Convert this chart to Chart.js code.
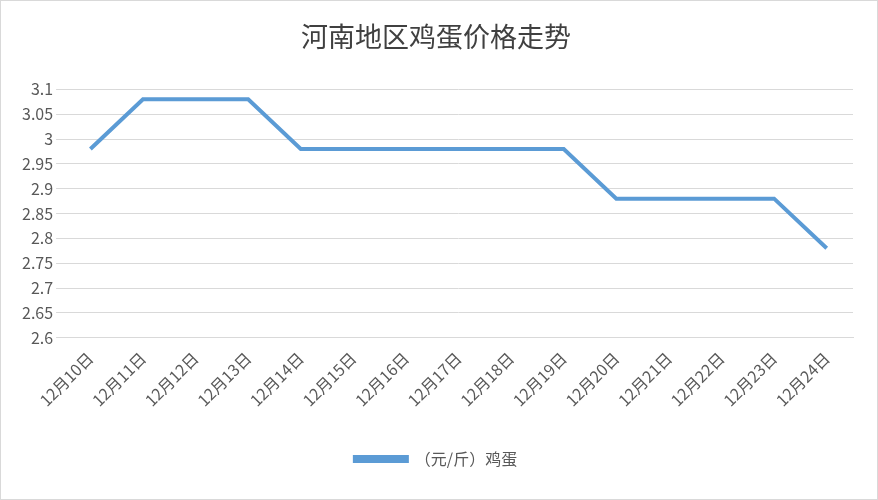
<!DOCTYPE html>
<html>
<head>
<meta charset="utf-8">
<script src="https://cdn.jsdelivr.net/npm/chart.js@4"></script>
<style>
  html, body { margin: 0; padding: 0; background: #fff; }
  #wrap { width: 876px; height: 498px; border: 1px solid #d9d9d9; position: relative; }
</style>
</head>
<body>
<div id="wrap"><canvas id="c" width="876" height="498"></canvas></div>
<script>
// 数据
const categories = ['12月10日', '12月11日', '12月12日', '12月13日', '12月14日', '12月15日', '12月16日',
  '12月17日', '12月18日', '12月19日', '12月20日', '12月21日', '12月22日', '12月23日', '12月24日'];
const eggPrices = [2.98, 3.08, 3.08, 3.08, 2.98, 2.98, 2.98, 2.98, 2.98, 2.98, 2.88, 2.88, 2.88, 2.88, 2.78];
const seriesLabel = '（元/斤）鸡蛋';
const yMin = 2.6, yMax = 3.1, yStep = 0.05;

const font = '"Noto Sans CJK SC", "Noto Sans", sans-serif';

new Chart(document.getElementById('c'), {
  type: 'line',
  data: {
    labels: categories,
    datasets: [{
      label: seriesLabel,
      data: eggPrices,
      borderColor: '#5b9bd5',
      backgroundColor: '#5b9bd5',
      borderWidth: 4,
      pointRadius: 0,
      tension: 0,
    }],
  },
  options: {
    responsive: false,
    animation: false,
    layout: { padding: { left: 18, right: 24, top: 6, bottom: 22 } },
    plugins: {
      title: {
        display: true,
        text: '河南地区鸡蛋价格走势',
        color: '#404040',
        font: { family: font, size: 27, weight: 'normal' },
        padding: { top: 14, bottom: 36 },
      },
      legend: {
        position: 'bottom',
        labels: {
          color: '#595959',
          font: { family: font, size: 16 },
          boxWidth: 52,
          boxHeight: 4,
          padding: 38,
        },
      },
      tooltip: { enabled: false },
    },
    scales: {
      x: {
        offset: true,
        grid: { display: false },
        border: { color: '#d9d9d9' },
        ticks: {
          color: '#595959',
          font: { family: font, size: 16 },
          maxRotation: 45,
          minRotation: 45,
          autoSkip: false,
        },
      },
      y: {
        min: yMin,
        max: yMax,
        grid: { color: '#d9d9d9' },
        border: { display: false },
        ticks: {
          stepSize: yStep,
          color: '#595959',
          font: { family: font, size: 16 },
          callback: (v) => Number(v.toFixed(2)).toString(),
        },
      },
    },
  },
});
</script>
</body>
</html>
